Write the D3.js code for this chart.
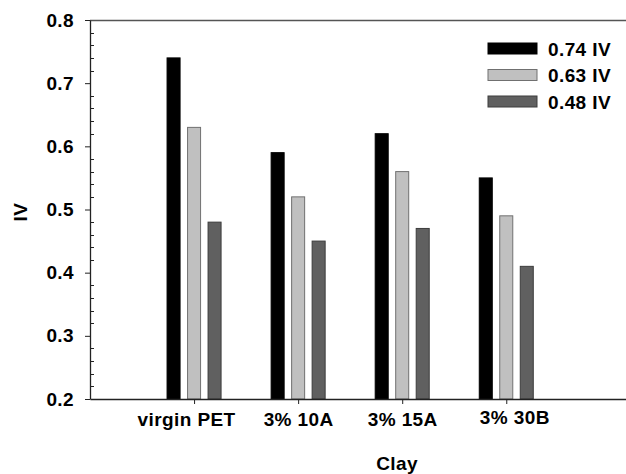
<!DOCTYPE html>
<html>
<head>
<meta charset="utf-8">
<script src="https://cdn.jsdelivr.net/npm/d3@7"></script>
<style>
  html, body { margin: 0; background: #fff; overflow: hidden; }
  svg { display: block; }
  text { font-family: "Liberation Sans", Arial, sans-serif; font-weight: bold; fill: #000; }
</style>
</head>
<body>
<script>
var w = 626;
var h = 474;

// data
var categories = ["virgin PET", "3% 10A", "3% 15A", "3% 30B"];
var seriesNames = ["0.74 IV", "0.63 IV", "0.48 IV"];
var iv074 = [0.74, 0.59, 0.62, 0.55];
var iv063 = [0.63, 0.52, 0.56, 0.49];
var iv048 = [0.48, 0.45, 0.47, 0.41];
var yTicks = [0.2, 0.3, 0.4, 0.5, 0.6, 0.7, 0.8];

var series = [iv074, iv063, iv048];
var fills = ["#000000", "#c0c0c0", "#606060"];
var strokes = ["#000000", "#707070", "#3c3c3c"];

var fontSize = "19px";
var spacing = "0.4px";

// plot frame runs off the right edge of the picture
var plotLeft = 90;
var plotRight = 704;

var x = d3.scaleLinear()
  .domain([0, 5.9])
  .range([plotLeft, plotRight]);

var y = d3.scaleLinear()
  .domain([0.2, 0.8])
  .range([399, 20]);

var svg = d3.select("body").append("svg")
  .attr("width", w)
  .attr("height", h);

var groupOffset = 0.197;
var barW = x(0.125) - x(0);

// bars
series.forEach((vals, j) => {
  svg.selectAll(".bar" + j)
    .data(vals)
    .enter()
      .append("rect")
      .attr("class", "bar" + j)
      .attr("x", (d, i) => x(i + 1 + (j - 1) * groupOffset) - barW / 2)
      .attr("y", (d) => y(d))
      .attr("width", barW)
      .attr("height", (d) => y(0.2) - y(d))
      .attr("fill", fills[j])
      .attr("stroke", strokes[j])
      .attr("stroke-width", 1);
});

// top frame line
svg.append("line")
  .attr("x1", x(0)).attr("x2", w)
  .attr("y1", y(0.8) + 0.5).attr("y2", y(0.8) + 0.5)
  .attr("stroke", "#555").attr("stroke-width", 1.3);

// y axis
var yAxis = d3.axisLeft(y)
  .tickValues(yTicks)
  .tickSize(5)
  .tickSizeOuter(0)
  .tickPadding(11)
  .tickFormat(d3.format(".1f"));

var gy = svg.append("g")
  .attr("transform", "translate(" + x(0) + ",0)")
  .call(yAxis);

// minor ticks pointing inward
var minor = d3.range(0.22, 0.8, 0.02).filter((v) => Math.abs(Math.round(v * 10) - v * 10) > 0.01);
svg.selectAll(".minor")
  .data(minor)
  .enter()
    .append("line")
    .attr("x1", x(0)).attr("x2", x(0) + 4)
    .attr("y1", (d) => Math.round(y(d)) + 0.5)
    .attr("y2", (d) => Math.round(y(d)) + 0.5)
    .attr("stroke", "#222");

// x axis
var xAxis = d3.axisBottom(x)
  .tickValues([1, 2, 3, 4])
  .tickSize(5)
  .tickSizeOuter(0)
  .tickPadding(9)
  .tickFormat((d) => categories[d - 1]);

var gx = svg.append("g")
  .attr("transform", "translate(0," + y(0.2) + ")")
  .call(xAxis);

// major ticks at the axis ends (0.2 / 0.8)
gy.selectAll(".tick line").attr("x2", -5);

[gx, gy].forEach((g) => {
  g.select(".domain").attr("stroke", "#222").attr("stroke-width", 1.3);
  g.selectAll(".tick line").attr("stroke", "#222");
  g.selectAll(".tick text")
    .style("font-size", fontSize)
    .style("letter-spacing", spacing)
    .style("font-family", "'Liberation Sans', Arial, sans-serif")
    .style("font-weight", "bold")
    .attr("fill", "#000");
});

// the category labels in the original sit a little off their ticks
var labelNudge = {1: [-8, 0], 4: [8, -2]};
gx.selectAll(".tick text")
  .attr("dx", (d) => labelNudge[d] ? labelNudge[d][0] : 0)
  .attr("transform", (d) => labelNudge[d] ? "translate(0," + labelNudge[d][1] + ")" : null);

// axis titles
svg.append("text")
  .attr("x", 397)
  .attr("y", 470)
  .attr("text-anchor", "middle")
  .style("font-size", fontSize)
  .style("letter-spacing", spacing)
  .text("Clay");

svg.append("text")
  .attr("transform", "translate(27,212) rotate(-90)")
  .attr("text-anchor", "middle")
  .style("font-size", fontSize)
  .style("letter-spacing", spacing)
  .text("IV");

// legend
var legend = svg.selectAll(".legend")
  .data(seriesNames)
  .enter()
    .append("g")
    .attr("class", "legend")
    .attr("transform", (d, i) => "translate(488," + (43 + i * 26.5) + ")");

legend.append("rect")
  .attr("width", 49)
  .attr("height", 11)
  .attr("fill", (d, i) => fills[i])
  .attr("stroke", (d, i) => strokes[i]);

legend.append("text")
  .attr("x", 60)
  .attr("y", 12.5)
  .style("font-size", fontSize)
  .style("letter-spacing", spacing)
  .text((d) => d);
</script>
</body>
</html>
